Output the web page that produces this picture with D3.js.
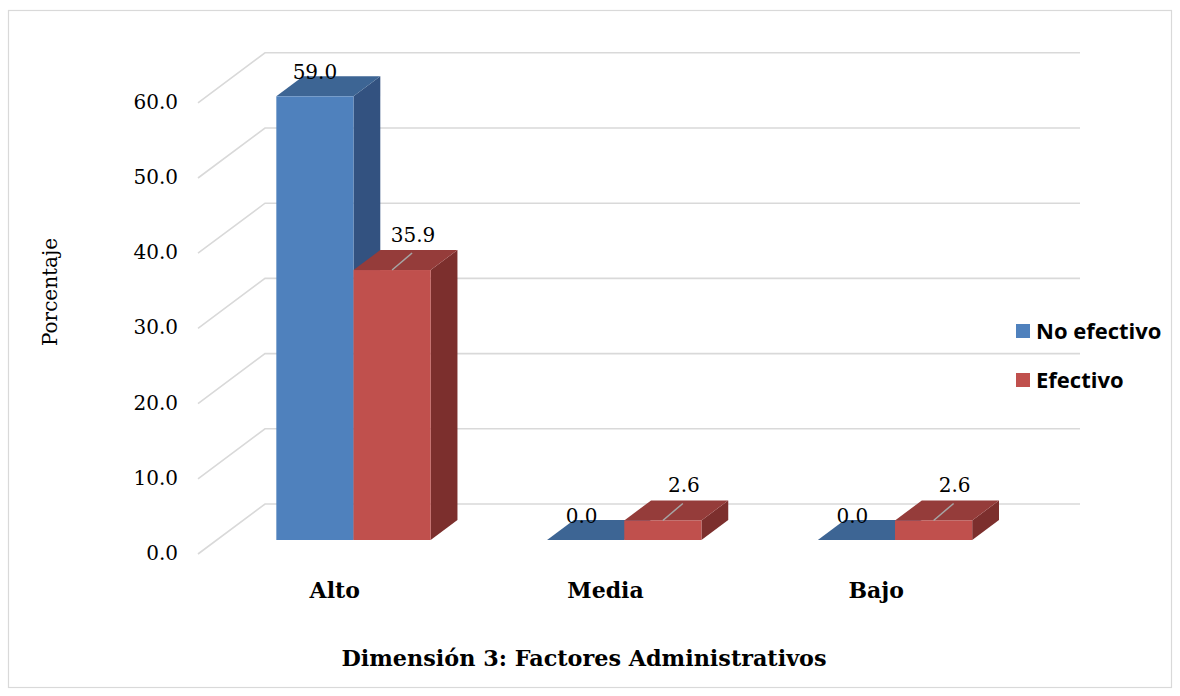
<!DOCTYPE html>
<html>
<head>
<meta charset="utf-8">
<script src="https://cdn.jsdelivr.net/npm/d3@7"></script>
<style>
  html, body { margin: 0; padding: 0; background: #fff; }
  svg { display: block; }
</style>
</head>
<body>
<svg id="chart" width="1180" height="696"></svg>
<script>
// ---- data ----
const categories = ["Alto", "Media", "Bajo"];
const seriesNames = ["No efectivo", "Efectivo"];
const noEfectivo = [59.0, 0.0, 0.0];
const efectivo = [35.9, 2.6, 2.6];
const yTicks = [0, 10, 20, 30, 40, 50, 60];
const yAxisTitle = "Porcentaje";
const xAxisTitle = "Dimensión 3: Factores Administrativos";

const seriesValues = [noEfectivo, efectivo];
const colors = [
  { front: "#4f81bd", top: "#3d6594", side: "#335280" },
  { front: "#c0504d", top: "#953c3a", side: "#7c2f2d" }
];

const svg = d3.select("#chart");

// outer border
svg.append("rect").attr("x", 8.5).attr("y", 10.5).attr("width", 1163).attr("height", 677)
  .attr("fill", "#fff").attr("stroke", "#d9d9d9").attr("stroke-width", 1.2);

// 3D projection parameters
const DX = 67, DY = -50;          // full floor depth offset
const d1 = 0.28, d2 = 0.68;       // bar depth range (fraction)

const x0 = d3.scaleBand().domain(categories).range([198, 1013]).paddingInner(0.43).paddingOuter(0.22);
const x1 = d3.scaleBand().domain(seriesNames).range([0, x0.bandwidth()]);
const y = d3.scaleLinear().domain([0, 60]).range([554, 554 - 60 * 7.52]);

const P = (xf, v, d) => [xf + d * DX, y(v) + d * DY];

// gridlines (side wall + back wall)
const grid = svg.append("g");
yTicks.forEach(v => {
  const pts = [P(198, v, 0), P(198, v, 1), [1080, y(v) + DY]];
  grid.append("path").attr("d", d3.line()(pts))
    .attr("fill", "none").attr("stroke", "#d9d9d9").attr("stroke-width", 1.6);
});

// y tick labels
svg.append("g").selectAll("text").data(yTicks).join("text")
  .attr("x", 178).attr("y", d => y(d) + 6)
  .attr("text-anchor", "end")
  .attr("font-family", "DejaVu Serif").attr("font-size", 20).attr("fill", "#000")
  .text(d => d3.format(".1f")(d));

// y axis title
svg.append("text").attr("transform", "translate(57,292) rotate(-90)")
  .attr("text-anchor", "middle")
  .attr("font-family", "DejaVu Serif").attr("font-size", 20).attr("fill", "#000")
  .text(yAxisTitle);

// bars
const bars = svg.append("g");
const labels = svg.append("g");
categories.forEach((cat, ci) => {
  seriesNames.forEach((s, si) => {
    const v = seriesValues[si][ci];
    const xa = x0(cat) + x1(s), xb = xa + x1.bandwidth();
    const c = colors[si];
    const poly = pts => d3.line()(pts) + "Z";
    // side face
    if (v > 0) {
      bars.append("path").attr("d", poly([P(xb, 0, d1), P(xb, 0, d2), P(xb, v, d2), P(xb, v, d1)]))
        .attr("fill", c.side);
    }
    // top face
    bars.append("path").attr("d", poly([P(xa, v, d1), P(xb, v, d1), P(xb, v, d2), P(xa, v, d2)]))
      .attr("fill", c.top);
    // front face
    if (v > 0) {
      const [fx, fy] = P(xa, v, d1);
      const [, fb] = P(xa, 0, d1);
      bars.append("rect").attr("x", fx).attr("y", fy).attr("width", xb - xa).attr("height", fb - fy)
        .attr("fill", c.front);
    }
    // value labels
    const [cx0, ty] = P((xa + xb) / 2, v, d1);
    if (si === 0) {
      labels.append("text").attr("x", cx0 - (v === 0 ? 4 : 0)).attr("y", ty - 17)
        .attr("text-anchor", "middle")
        .attr("font-family", "DejaVu Serif").attr("font-size", 20).attr("fill", "#000")
        .text(d3.format(".1f")(v));
    } else {
      labels.append("line").attr("x1", cx0).attr("y1", ty).attr("x2", cx0 + 20).attr("y2", ty - 17)
        .attr("stroke", "#a6a6a6").attr("stroke-width", 1.5);
      labels.append("text").attr("x", cx0 + 21).attr("y", ty - 28)
        .attr("text-anchor", "middle")
        .attr("font-family", "DejaVu Serif").attr("font-size", 20).attr("fill", "#000")
        .text(d3.format(".1f")(v));
    }
  });
});

// category labels
svg.append("g").selectAll("text").data(categories).join("text")
  .attr("x", d => x0(d) + x0.bandwidth() / 2).attr("y", 598)
  .attr("text-anchor", "middle")
  .attr("font-family", "DejaVu Serif").attr("font-weight", "bold").attr("font-size", 22)
  .attr("fill", "#000")
  .text(d => d);

// x axis title
svg.append("text").attr("x", 584).attr("y", 666).attr("text-anchor", "middle")
  .attr("font-family", "DejaVu Serif").attr("font-weight", "bold").attr("font-size", 22.3)
  .attr("fill", "#000")
  .text(xAxisTitle);

// legend
const legend = svg.append("g");
seriesNames.forEach((s, i) => {
  const ly = 324 + i * 49;
  legend.append("rect").attr("x", 1016).attr("y", ly).attr("width", 14).attr("height", 14)
    .attr("fill", colors[i].front);
  legend.append("text").attr("x", 1036).attr("y", ly + 15)
    .attr("font-family", "Open Sans").attr("font-weight", "bold").attr("font-size", 22)
    .attr("fill", "#000").text(s);
});
</script>
</body>
</html>
